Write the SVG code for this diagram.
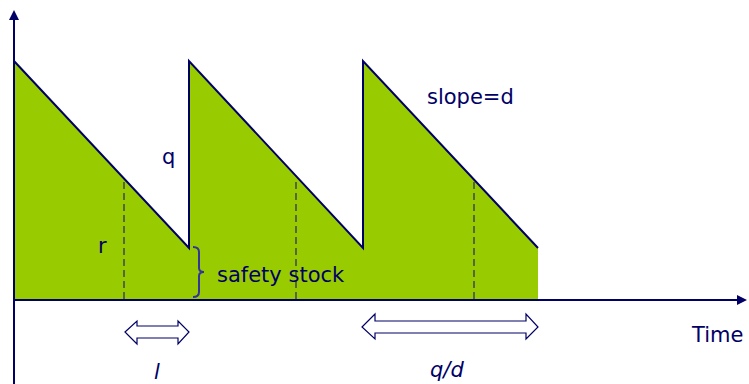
<svg xmlns="http://www.w3.org/2000/svg" width="749" height="384" viewBox="0 0 749 384">
<style>
.t{font-family:"DejaVu Sans","Liberation Sans",sans-serif;fill:#000066;font-size:21px}
.i{font-style:italic}
.ax{stroke:#000066;stroke-width:2;fill:none}
.dash{stroke:#333355;stroke-width:1.3;stroke-dasharray:7,4;fill:none}
.dbl{fill:#fff;stroke:#000066;stroke-width:1.2}
</style>
<defs>
<marker id="ah" markerWidth="10" markerHeight="10" refX="8" refY="5" orient="auto" markerUnits="userSpaceOnUse">
<path d="M0,0 L10,5 L0,10 Z" fill="#000066"/>
</marker>
</defs>
<g id="inventory">
<path d="M14,61 L189,248 L189,61 L363,248 L363,61 L538,248 L538,300 L14,300 Z" fill="#99CC00"/>
<path d="M14,61 L189,248 L189,61 L363,248 L363,61 L538,248" fill="none" stroke="#000066" stroke-width="2"/>
</g>
<g id="connectors">
<line class="ax" x1="14" y1="384" x2="14" y2="12" marker-end="url(#ah)"/>
<line class="ax" x1="14" y1="300" x2="745" y2="300" marker-end="url(#ah)"/>
<line class="dash" x1="124" y1="182" x2="124" y2="300"/>
<line class="dash" x1="296" y1="182" x2="296" y2="300"/>
<line class="dash" x1="474" y1="182" x2="474" y2="300"/>
</g>
<g id="brace">
<path d="M193,247 Q199,247 199,252 L199,268 Q199,272 204,272 Q199,272 199,276 L199,292 Q199,297 193,297" fill="none" stroke="#333399" stroke-width="2"/>
</g>
<g id="arrow-l">
<path class="dbl" d="M125,332 L137,321 L137,326 L178,326 L178,321 L189,332 L178,344 L178,338 L137,338 L137,344 Z"/>
</g>
<g id="arrow-qd">
<path class="dbl" d="M362,327 L375,314 L375,321 L526,321 L526,314 L538,327 L526,339 L526,333 L375,333 L375,339 Z"/>
</g>
<g id="labels">
<text class="t" x="162" y="164">q</text>
<text class="t" x="98" y="253">r</text>
<text class="t" x="217" y="282">safety stock</text>
<text class="t" x="427" y="104">slope=d</text>
<text class="t" x="692" y="342">Time</text>
<text class="t i" x="154" y="379">l</text>
<text class="t i" x="430" y="377">q/d</text>
</g>
</svg>
